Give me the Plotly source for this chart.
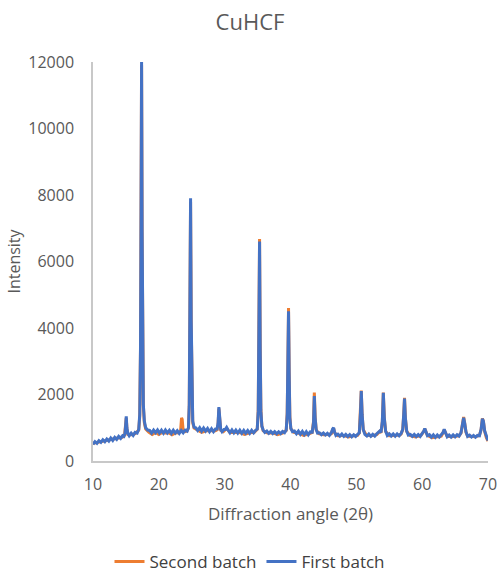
import plotly.graph_objects as go

# First batch (blue)
first_x = [10.0, 10.3, 10.6, 10.9, 11.2, 11.5, 11.8, 12.1, 12.4, 12.7, 13.0, 13.3, 13.6, 13.9, 14.2, 14.5, 14.7,
           14.85, 14.95, 15.05, 15.15, 15.3,
           15.5, 15.8, 16.1, 16.4, 16.7, 16.95, 17.1, 17.22, 17.3, 17.38, 17.46, 17.55, 17.65, 17.8, 18.0, 18.3,
           18.6, 18.9, 19.2, 19.5, 19.8, 20.1, 20.4, 20.7, 21.0, 21.3, 21.6, 21.9, 22.2, 22.5, 22.8, 23.1, 23.4,
           23.7, 24.0, 24.3, 24.5, 24.62, 24.72, 24.82, 24.92, 25.02, 25.15, 25.35, 25.6, 25.9, 26.2, 26.5, 26.8,
           27.1, 27.4, 27.7, 28.0, 28.3, 28.6, 28.85, 29.0, 29.12, 29.24, 29.4, 29.6, 29.9, 30.1, 30.3, 30.5, 30.8,
           31.1, 31.4, 31.7, 32.0, 32.3, 32.6, 32.9, 33.2, 33.5, 33.8, 34.1, 34.4, 34.7, 34.95, 35.1, 35.2, 35.3,
           35.4, 35.5, 35.65, 35.85, 36.1, 36.4, 36.7, 37.0, 37.3, 37.6, 37.9, 38.2, 38.5, 38.8, 39.1, 39.35, 39.5,
           39.6, 39.7, 39.8, 39.9, 40.05, 40.3, 40.6, 40.9, 41.2, 41.5, 41.8, 42.1, 42.4, 42.7, 43.0, 43.3, 43.5,
           43.62, 43.74, 43.9, 44.1, 44.4, 44.7, 45.0, 45.3, 45.6, 45.9, 46.2, 46.4, 46.55, 46.7, 46.9, 47.2, 47.5,
           47.8, 48.1, 48.4, 48.7, 49.0, 49.3, 49.6, 49.9, 50.2, 50.45, 50.62, 50.75, 50.88, 51.05, 51.3, 51.6,
           51.9, 52.2, 52.5, 52.8, 53.1, 53.35, 53.55, 53.75, 53.95, 54.1, 54.25, 54.45, 54.7, 55.0, 55.3, 55.6,
           55.9, 56.2, 56.5, 56.8, 57.05, 57.2, 57.32, 57.45, 57.65, 57.9, 58.2, 58.5, 58.8, 59.1, 59.4, 59.7,
           60.0, 60.25, 60.4, 60.55, 60.8, 61.1, 61.4, 61.7, 62.0, 62.3, 62.6, 62.9, 63.15, 63.35, 63.55, 63.8,
           64.1, 64.4, 64.7, 65.0, 65.3, 65.6, 65.9, 66.1, 66.3, 66.45, 66.65, 66.9, 67.2, 67.5, 67.8, 68.1, 68.4,
           68.7, 68.95, 69.15, 69.3, 69.5, 69.75, 70.0]
first_y = [500, 580, 530, 610, 560, 640, 580, 660, 600, 690, 620, 710, 650, 740, 680, 760, 740,
           820, 1050, 1340, 1000, 830,
           760, 840, 770, 860, 840, 950, 1400, 3500, 7500, 12000, 7000, 3000, 1700, 1200, 1000, 930,
           920, 840, 930, 850, 935, 840, 925, 835, 930, 845, 920, 830, 925, 840, 910, 830, 920,
           850, 930, 900, 1000, 1700, 4500, 7900, 4200, 1800, 1200, 1020, 1000, 920, 1000, 900, 990,
           900, 980, 880, 970, 880, 960, 960, 1150, 1620, 1200, 950, 880, 950, 950, 1010, 940, 850,
           935, 845, 930, 840, 925, 835, 920, 835, 915, 830, 920, 845, 920, 960, 1500, 3500, 6600,
           3300, 1500, 1050, 930, 860, 900, 830, 890, 825, 885, 820, 880, 825, 890, 850, 930, 1400,
           2800, 4500, 2600, 1300, 980, 880, 900, 820, 900, 805, 890, 795, 880, 790, 875, 870, 1150,
           1950, 1300, 950, 840, 850, 790, 840, 780, 830, 770, 850, 960, 1000, 870, 770, 810, 750,
           810, 740, 800, 735, 795, 730, 790, 740, 800, 850, 1400, 2100, 1400, 950, 800, 750,
           810, 740, 800, 750, 820, 850, 900, 860, 1200, 2050, 1300, 900, 770, 820, 750, 815,
           745, 815, 760, 830, 950, 1400, 1880, 1300, 900, 780, 800, 740, 800, 735, 795, 740,
           820, 900, 980, 900, 760, 790, 715, 785, 710, 780, 720, 790, 850, 950, 860, 730,
           780, 720, 785, 725, 790, 750, 850, 1050, 1300, 1150, 880, 740, 780, 720, 770, 715, 770,
           760, 950, 1270, 1200, 900, 720, 620]

# Second batch (orange)
second_x = [10.0, 10.5, 11.0, 11.5, 12.0, 12.5, 13.0, 13.5, 14.0, 14.5, 14.8, 14.95, 15.05, 15.15, 15.3, 15.8,
            16.4, 16.95, 17.1, 17.22, 17.3, 17.38, 17.46, 17.55, 17.65, 17.8, 18.0, 18.5, 19.0, 19.5, 20.0, 20.5,
            21.0, 21.5, 22.0, 22.5, 23.0, 23.3, 23.45, 23.55, 23.7, 24.0, 24.3, 24.5, 24.62, 24.72, 24.82, 24.92,
            25.02, 25.15, 25.35, 25.8, 26.5, 27.2, 28.0, 28.6, 28.85, 29.0, 29.12, 29.24, 29.4, 29.8, 30.3, 30.8,
            31.5, 32.2, 33.0, 33.8, 34.5, 34.95, 35.1, 35.2, 35.3, 35.4, 35.5, 35.65, 35.85, 36.5, 37.3, 38.0,
            38.8, 39.35, 39.5, 39.6, 39.7, 39.8, 39.9, 40.05, 40.5, 41.2, 42.0, 42.8, 43.3, 43.5, 43.62, 43.74,
            43.9, 44.3, 45.0, 45.8, 46.2, 46.4, 46.55, 46.7, 47.2, 48.0, 48.8, 49.6, 50.2, 50.45, 50.62, 50.75,
            50.88, 51.05, 51.5, 52.3, 53.1, 53.35, 53.55, 53.75, 53.95, 54.1, 54.25, 54.45, 55.0, 55.8, 56.6,
            56.8, 57.05, 57.2, 57.32, 57.45, 57.65, 58.2, 59.0, 59.8, 60.25, 60.4, 60.55, 60.8, 61.5, 62.3, 62.9,
            63.15, 63.35, 63.55, 63.8, 64.5, 65.3, 65.6, 65.9, 66.1, 66.3, 66.45, 66.65, 66.9, 67.5, 68.1, 68.7,
            68.95, 69.15, 69.3, 69.5, 69.75, 70.0]
second_y = [530, 550, 590, 600, 630, 640, 660, 680, 700, 720, 780, 1000, 1300, 980, 800, 790,
            820, 930, 1350, 3400, 7400, 11900, 6900, 2900, 1650, 1150, 960, 860, 800, 860, 800, 860,
            840, 850, 790, 840, 850, 900, 1300, 1250, 900, 880, 910, 990, 1650, 4400, 7800, 4100,
            1750, 1150, 990, 930, 860, 910, 900, 910, 940, 1100, 1580, 1150, 920, 880, 980, 860,
            850, 860, 800, 850, 860, 950, 1550, 3600, 6680, 3400, 1550, 1050, 910, 840, 850, 790,
            840, 920, 1450, 2900, 4600, 2700, 1350, 970, 860, 840, 770, 820, 860, 1200, 2060, 1350,
            940, 820, 790, 800, 820, 940, 980, 850, 760, 770, 720, 760, 770, 840, 1400, 2120,
            1400, 940, 780, 760, 790, 840, 890, 850, 1180, 2060, 1300, 890, 760, 770, 780,
            810, 940, 1400, 1900, 1300, 890, 760, 720, 770, 890, 970, 890, 770, 700, 740, 750,
            840, 940, 850, 740, 730, 740, 760, 840, 1050, 1320, 1150, 870, 750, 740, 730, 770,
            940, 1280, 1200, 890, 700, 600]

x_ticks = [10, 20, 30, 40, 50, 60, 70]
y_ticks = [0, 2000, 4000, 6000, 8000, 10000, 12000]

FONT = "Open Sans"
GREY = "#595959"

fig = go.Figure()
fig.add_trace(go.Scatter(x=second_x, y=second_y, mode="lines", name="Second batch",
                         line=dict(color="#ED7D31", width=3)))
fig.add_trace(go.Scatter(x=first_x, y=first_y, mode="lines", name="First batch",
                         line=dict(color="#4472C4", width=3)))

fig.update_layout(
    width=500, height=572,
    margin=dict(l=93, r=12, t=62, b=111, autoexpand=False),
    paper_bgcolor="white", plot_bgcolor="white",
    font=dict(family=FONT, color=GREY, size=16),
    title=dict(text="CuHCF", x=0.5, xref="container", xanchor="center",
               y=1 - 22 / 572, yref="container", yanchor="middle",
               font=dict(size=22, color=GREY, family=FONT)),
    showlegend=True,
    legend=dict(orientation="h", x=0.5, xanchor="center", xref="container",
                y=(572 - 562) / 572, yanchor="middle", yref="container",
                font=dict(size=17, color="#404040", family=FONT), traceorder="normal"),
    xaxis=dict(range=[10, 70], tickvals=x_ticks, ticktext=[str(v) for v in x_ticks],
               showgrid=False, zeroline=False, showline=True, linecolor="#C8C8C8", linewidth=1.5,
               ticks="", ticklabelstandoff=8, tickfont=dict(size=16, color=GREY), automargin=False,
               title=dict(text="Diffraction angle (2θ)", font=dict(size=17, color=GREY), standoff=14)),
    yaxis=dict(range=[0, 12000], tickvals=y_ticks, ticktext=[str(v) for v in y_ticks],
               showgrid=False, zeroline=False, showline=True, linecolor="#C8C8C8", linewidth=1.5,
               ticks="", ticklabelstandoff=14, tickfont=dict(size=16, color=GREY), automargin=False,
               title=dict(text="Intensity", font=dict(size=16, color=GREY), standoff=4)),
)

fig.write_html("out.html")
